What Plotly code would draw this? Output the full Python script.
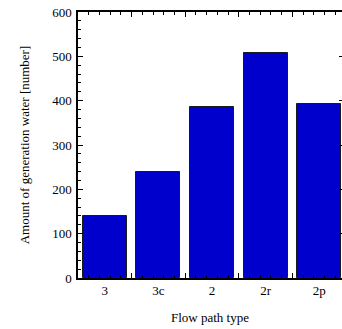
import plotly.graph_objects as go

categories = ["3", "3c", "2", "2r", "2p"]
values = [140, 240, 385, 508, 392]

font_family = "Liberation Serif, Times New Roman, serif"
positions = list(range(len(categories)))

fig = go.Figure()
fig.add_trace(go.Bar(
    x=positions, y=values, width=0.82,
    marker=dict(color="#0000cc", line=dict(color="#1a1a1a", width=1)),
    xaxis="x", yaxis="y", showlegend=False,
))
# invisible traces to activate the tick-only axes
fig.add_trace(go.Scatter(x=[positions[0]], y=[0], xaxis="x2", yaxis="y",
                         mode="markers", marker=dict(opacity=0), showlegend=False,
                         hoverinfo="skip"))
fig.add_trace(go.Scatter(x=[positions[0]], y=[0], xaxis="x", yaxis="y2",
                         mode="markers", marker=dict(opacity=0), showlegend=False,
                         hoverinfo="skip"))

xr = [-0.5, 4.425]
yr = [0, 600]
fig.update_layout(
    width=342, height=329,
    margin=dict(l=78, r=0, t=12, b=51),
    paper_bgcolor="white", plot_bgcolor="white",
    font=dict(family=font_family, size=13, color="black"),
    xaxis=dict(
        range=xr, tickmode="array", tickvals=positions, ticktext=categories,
        ticks="", showgrid=False, zeroline=False,
        showline=True, linecolor="black", linewidth=1.5, mirror=True,
        title=dict(text="Flow path type", font=dict(size=13), standoff=16),
        tickfont=dict(size=13),
    ),
    xaxis2=dict(
        overlaying="x", side="bottom", range=xr,
        tickmode="linear", tick0=-0.5, dtick=1,
        ticks="inside", ticklen=5, tickcolor="black", tickwidth=1,
        showticklabels=False, showgrid=False, zeroline=False,
        showline=False, mirror="ticks",
        minor=dict(ticks="inside", ticklen=3, tick0=-0.5, dtick=0.2,
                   tickcolor="black", tickwidth=1, showgrid=False),
    ),
    yaxis=dict(
        range=yr, tickmode="linear", tick0=0, dtick=100,
        ticks="inside", ticklen=5, tickcolor="black", tickwidth=1,
        showgrid=False, zeroline=False,
        showline=True, linecolor="black", linewidth=1.5, mirror=False,
        ticklabelstandoff=2,
        minor=dict(ticks="inside", ticklen=3, dtick=20, tickcolor="black",
                   tickwidth=1, showgrid=False),
        title=dict(text="Amount of generation water [number]", font=dict(size=13), standoff=20),
        tickfont=dict(size=13),
    ),
    yaxis2=dict(
        overlaying="y", side="right", range=yr,
        tickmode="linear", tick0=0, dtick=100,
        ticks="inside", ticklen=3, tickcolor="black", tickwidth=1,
        showticklabels=False, showgrid=False, zeroline=False, showline=False,
    ),
    bargap=0,
)

fig.write_html("out.html")
